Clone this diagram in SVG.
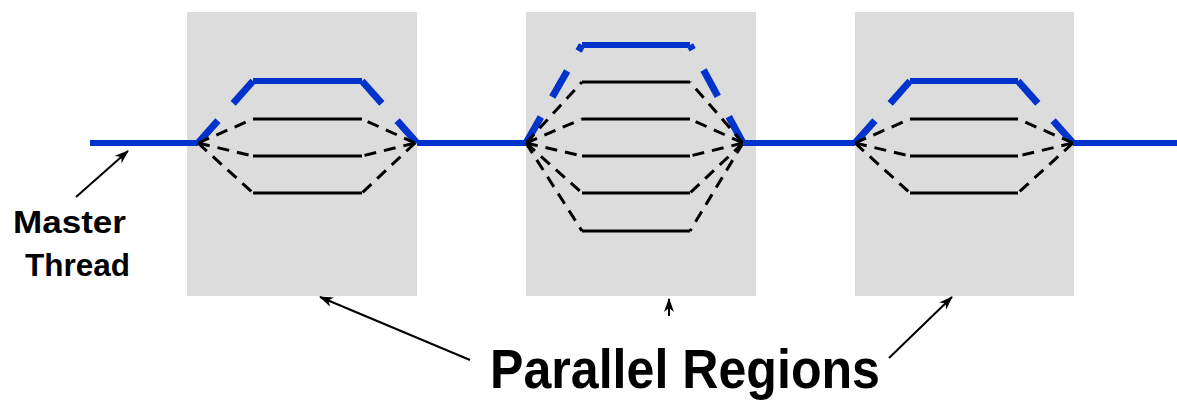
<svg xmlns="http://www.w3.org/2000/svg" width="1177" height="401" viewBox="0 0 1177 401">
<style>
.region{fill:#dcdcdc;stroke:none}
.master{stroke:#0033cc;stroke-width:6;fill:none}
.btop{stroke:#0033cc;stroke-width:6;fill:none}
.bdiag{stroke:#0033cc;stroke-width:7;fill:none;stroke-dasharray:30 23}
.thr{stroke:#000;stroke-width:3;fill:none}
.tdiag{stroke:#000;stroke-width:3;fill:none;stroke-dasharray:12 8}
.lbl{font-family:"Liberation Sans",Arial,sans-serif;font-weight:bold;fill:#000}
.ptr{stroke:#000;stroke-width:2;fill:none;marker-end:url(#ah)}
</style>
<defs>
<marker id="ah" viewBox="0 0 14 10" refX="13" refY="5" markerWidth="14" markerHeight="10" markerUnits="userSpaceOnUse" orient="auto">
<path d="M0,0 L14,5 L0,10 L4,5 Z" fill="#000"/>
</marker>
</defs>

<g id="region1">
<rect class="region" x="187" y="12" width="230" height="284"/>
<line class="bdiag" x1="198" y1="143" x2="253" y2="81"/>
<line class="btop" x1="253" y1="81" x2="362" y2="81"/>
<line class="bdiag" x1="417" y1="143" x2="362" y2="81"/>
<line class="tdiag" x1="198" y1="143" x2="253" y2="119"/>
<line class="tdiag" x1="198" y1="143" x2="253" y2="156"/>
<line class="tdiag" x1="198" y1="143" x2="253" y2="193"/>
<line class="thr" x1="253" y1="119" x2="362" y2="119"/>
<line class="thr" x1="253" y1="156" x2="362" y2="156"/>
<line class="thr" x1="253" y1="193" x2="362" y2="193"/>
<line class="tdiag" x1="415" y1="143" x2="362" y2="119"/>
<line class="tdiag" x1="415" y1="143" x2="362" y2="156"/>
<line class="tdiag" x1="415" y1="143" x2="362" y2="193"/>
</g>

<g id="region2">
<rect class="region" x="526" y="12" width="230" height="284"/>
<line class="bdiag" x1="526" y1="143" x2="582" y2="45"/>
<line class="btop" x1="582" y1="45" x2="690" y2="45"/>
<line class="bdiag" x1="743" y1="143" x2="690" y2="45"/>
<line class="tdiag" x1="526" y1="143" x2="582" y2="82"/>
<line class="tdiag" x1="526" y1="143" x2="582" y2="119"/>
<line class="tdiag" x1="526" y1="143" x2="582" y2="156"/>
<line class="tdiag" x1="526" y1="143" x2="582" y2="193"/>
<line class="tdiag" x1="526" y1="143" x2="582" y2="231"/>
<line class="thr" x1="582" y1="82" x2="690" y2="82"/>
<line class="thr" x1="582" y1="119" x2="690" y2="119"/>
<line class="thr" x1="582" y1="156" x2="690" y2="156"/>
<line class="thr" x1="582" y1="193" x2="690" y2="193"/>
<line class="thr" x1="582" y1="231" x2="690" y2="231"/>
<line class="tdiag" x1="743" y1="143" x2="690" y2="82"/>
<line class="tdiag" x1="743" y1="143" x2="690" y2="119"/>
<line class="tdiag" x1="743" y1="143" x2="690" y2="156"/>
<line class="tdiag" x1="743" y1="143" x2="690" y2="193"/>
<line class="tdiag" x1="743" y1="143" x2="690" y2="231"/>
</g>

<g id="region3">
<rect class="region" x="855" y="12" width="219" height="284"/>
<line class="bdiag" x1="855" y1="143" x2="910" y2="81"/>
<line class="btop" x1="910" y1="81" x2="1018" y2="81"/>
<line class="bdiag" x1="1073" y1="143" x2="1018" y2="81"/>
<line class="tdiag" x1="855" y1="143" x2="910" y2="119"/>
<line class="tdiag" x1="855" y1="143" x2="910" y2="156"/>
<line class="tdiag" x1="855" y1="143" x2="910" y2="193"/>
<line class="thr" x1="910" y1="119" x2="1018" y2="119"/>
<line class="thr" x1="910" y1="156" x2="1018" y2="156"/>
<line class="thr" x1="910" y1="193" x2="1018" y2="193"/>
<line class="tdiag" x1="1073" y1="143" x2="1018" y2="119"/>
<line class="tdiag" x1="1073" y1="143" x2="1018" y2="156"/>
<line class="tdiag" x1="1073" y1="143" x2="1018" y2="193"/>
</g>

<g id="master-thread">
<line class="master" x1="90" y1="143" x2="198" y2="143"/>
<line class="master" x1="417" y1="143" x2="526" y2="143"/>
<line class="master" x1="743" y1="143" x2="855" y2="143"/>
<line class="master" x1="1073" y1="143" x2="1177" y2="143"/>
</g>

<g id="labels">
<text class="lbl" x="13" y="233" font-size="32" textLength="113" lengthAdjust="spacingAndGlyphs">Master</text>
<text class="lbl" x="25" y="276" font-size="32" textLength="105" lengthAdjust="spacingAndGlyphs">Thread</text>
<text class="lbl" x="490" y="388" font-size="55" textLength="390" lengthAdjust="spacingAndGlyphs">Parallel Regions</text>
</g>

<g id="connectors">
<line class="ptr" x1="76" y1="197" x2="128" y2="151"/>
<line class="ptr" x1="470" y1="360" x2="320" y2="297"/>
<line class="ptr" x1="669" y1="316" x2="669" y2="299"/>
<line class="ptr" x1="889" y1="358" x2="952" y2="297"/>
</g>
</svg>
